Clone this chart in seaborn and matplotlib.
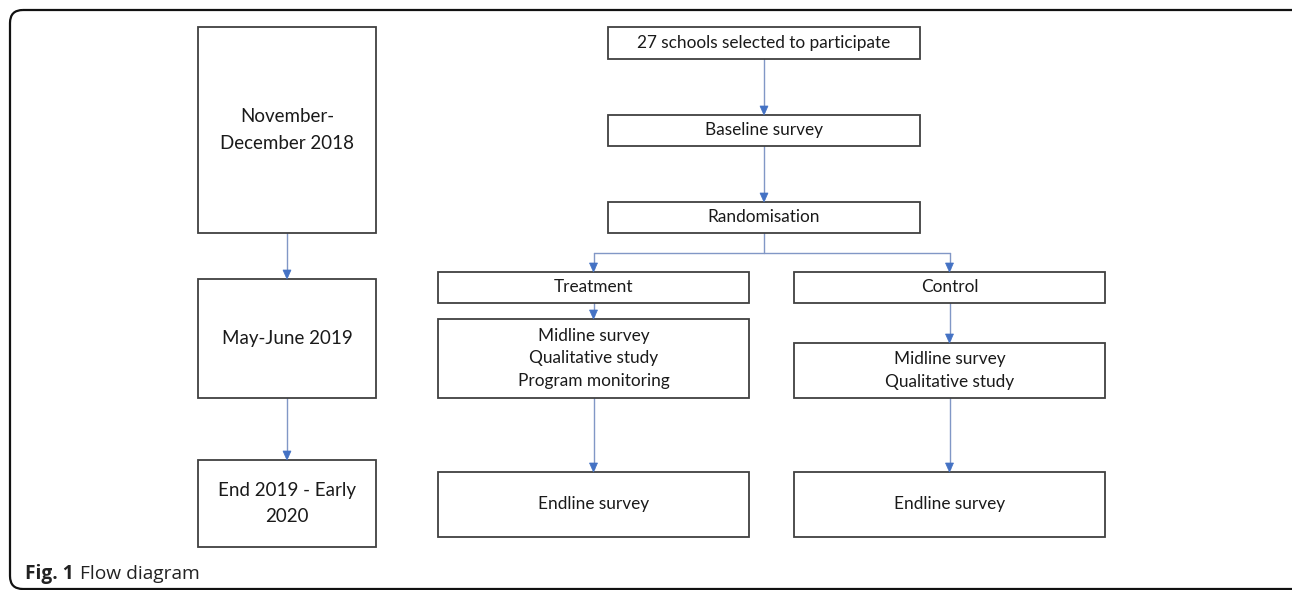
import matplotlib
matplotlib.use("Agg")
import matplotlib.pyplot as plt
from matplotlib.patches import Rectangle, FancyBboxPatch, Polygon
import seaborn as sns

sns.set_theme(style="white")
plt.rcParams['font.family'] = ['Lato', 'DejaVu Sans']

# ---- content ----
timeline_labels = ["November-\nDecember 2018", "May-June 2019", "End 2019 - Early\n2020"]
main_labels = ["27 schools selected to participate", "Baseline survey", "Randomisation"]
arm_labels = ["Treatment", "Control"]
midline_labels = ["Midline survey\nQualitative study\nProgram monitoring",
                  "Midline survey\nQualitative study"]
endline_labels = ["Endline survey", "Endline survey"]
caption_bold = "Fig. 1"
caption_text = "Flow diagram"

# ---- geometry (pixels: x0, y0, x1, y1) ----
timeline_boxes = [(198, 27, 376, 233), (198, 279, 376, 398), (198, 460, 376, 547)]
main_boxes = [(608, 27, 920, 59), (608, 115, 920, 146), (608, 202, 920, 233)]
arm_boxes = [(438, 272, 749, 303), (794, 272, 1105, 303)]
midline_boxes = [(438, 319, 749, 398), (794, 343, 1105, 398)]
endline_boxes = [(438, 472, 749, 537), (794, 472, 1105, 537)]
branch_y = 253

EDGE = "#404040"
LINE = "#8197C6"
HEAD = "#4472C4"
TXT = "#1a1a1a"

fig = plt.figure(figsize=(12.92, 5.90), dpi=100)
ax = fig.add_axes([0, 0, 1, 1])
ax.set_xlim(0, 1292)
ax.set_ylim(590, 0)
ax.axis("off")

# outer frame
frame = FancyBboxPatch((10, 10), 1300, 579, boxstyle="round,pad=0,rounding_size=13",
                       fill=False, edgecolor="#111111", linewidth=1.6)
ax.add_patch(frame)


def box(b, label, fs=12.4, ls=1.5):
    x0, y0, x1, y1 = b
    ax.add_patch(Rectangle((x0, y0), x1 - x0, y1 - y0, fill=True, facecolor="white",
                           edgecolor=EDGE, linewidth=1.3, zorder=2))
    ax.text((x0 + x1) / 2, (y0 + y1) / 2, label, ha="center", va="center",
            fontsize=fs, color=TXT, linespacing=ls, zorder=3)


def arrow(x, y0, y1):
    ax.plot([x, x], [y0, y1 - 3], color=LINE, linewidth=1.0, zorder=1)
    ax.add_patch(Polygon([(x - 4, y1 - 9), (x + 4, y1 - 9), (x, y1)], closed=True,
                         facecolor=HEAD, edgecolor=HEAD, linewidth=0.5, zorder=3))


for b, lab in zip(timeline_boxes, timeline_labels):
    box(b, lab, fs=13.5, ls=1.7)
for b, lab in zip(main_boxes, main_labels):
    box(b, lab)
for b, lab in zip(arm_boxes, arm_labels):
    box(b, lab)
for b, lab in zip(midline_boxes, midline_labels):
    box(b, lab, ls=1.5)
for b, lab in zip(endline_boxes, endline_labels):
    box(b, lab)

# timeline arrows
for a, b in zip(timeline_boxes[:-1], timeline_boxes[1:]):
    arrow((a[0] + a[2]) / 2, a[3], b[1])
# main chain arrows
for a, b in zip(main_boxes[:-1], main_boxes[1:]):
    arrow((a[0] + a[2]) / 2, a[3], b[1])

# branch
rx = (main_boxes[2][0] + main_boxes[2][2]) / 2
ax.plot([rx, rx], [main_boxes[2][3], branch_y], color=LINE, linewidth=1.0, zorder=1)
arm_x = [(b[0] + b[2]) / 2 for b in arm_boxes]
ax.plot([arm_x[0], arm_x[1]], [branch_y, branch_y], color=LINE, linewidth=1.0, zorder=1)
for x, b in zip(arm_x, arm_boxes):
    arrow(x, branch_y, b[1])
for x, a, m, e in zip(arm_x, arm_boxes, midline_boxes, endline_boxes):
    arrow(x, a[3], m[1])
    arrow(x, m[3], e[1])

# caption
t = ax.text(25, 574, caption_bold, ha="left", va="center", fontsize=13.8,
            fontweight="bold", color="#222222", family=["Open Sans", "DejaVu Sans"])
fig.canvas.draw()
bb = t.get_window_extent()
ax.text(bb.x1 + 6, 574, caption_text, ha="left", va="center", fontsize=13.8,
        color="#222222", family=["Open Sans", "DejaVu Sans"])

fig.savefig("out.png", dpi=100)
